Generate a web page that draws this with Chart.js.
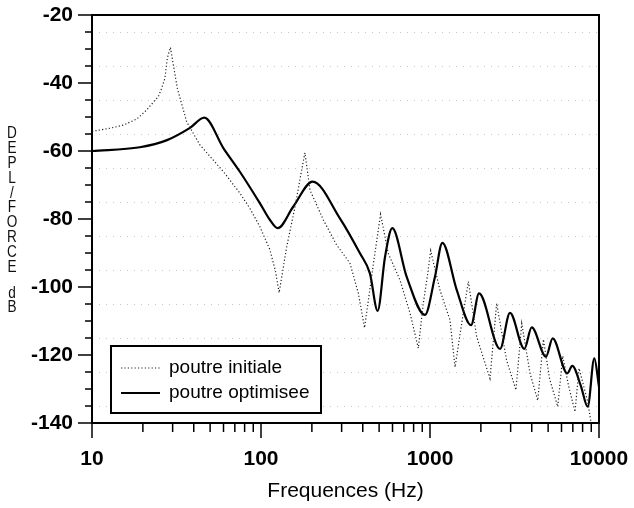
<!DOCTYPE html>
<html>
<head>
<meta charset="utf-8">
<script src="https://cdn.jsdelivr.net/npm/chart.js"></script>
<style>
  html, body { margin: 0; padding: 0; background: #fff; }
  canvas { display: block; }
</style>
</head>
<body>
<canvas id="chart" width="634" height="508"></canvas>
<script>
// poutre initiale (dotted)
const freqInit = [10, 10.6, 12.8, 15.3, 18.4, 21.1, 23.1, 24.7, 25.8, 27, 27.9, 29.1, 30.3, 32, 36.3, 43.5, 60, 75, 86, 98.6, 113, 122, 128,
  142, 159, 174, 182, 195, 234, 280, 336, 377, 410, 466, 510, 566, 664, 762, 853, 912, 964, 1009,
  1145, 1313, 1406, 1574, 1687, 1888, 2264, 2480, 2838, 3225, 3490, 3908, 4340, 4690, 5100, 5700,
  6100, 6600, 7210, 7620, 8600, 9300, 10000];
const dbInit = [-54.2, -54, -53.3, -52.4, -50.6, -47.9, -45.6, -44, -41.6, -38.6, -32.7, -29.5, -34.7, -41.6, -51.4, -58.2, -66.1, -72.4, -76.9, -82.3, -89.1, -95.5, -101.7,
  -88.1, -76.4, -65.6, -60.5, -71.5, -80.3, -87.6, -93, -101.9, -112, -92, -78.6, -90.1, -97.9, -107.7, -118, -104.8, -97, -89.3,
  -100.9, -109.7, -123.6, -107.7, -98.4, -114.6, -126.9, -104.8, -121.5, -130.3, -110.7, -125.4, -133.4, -115.4, -127, -135.2,
  -120.3, -129, -136.7, -123.9, -134, -145, -150];

// poutre optimisee (solid)
const freqOpt = [10, 19.2, 27.8, 38, 46.2, 60, 75, 98.6, 113, 125.6, 155, 202, 293, 385, 441, 490, 542, 598,
  728, 933, 1070, 1183, 1440, 1750, 1950, 2597, 2973, 3613, 3997, 4856, 5318, 6490, 6950, 7800, 8570, 9380, 10000];
const dbOpt = [-60, -58.9, -56.8, -53.2, -50.2, -59.2, -66.1, -75.4, -80.3, -82.7, -76.4, -69, -79.8, -90.1, -96, -107, -91.1, -82.7,
  -97, -108.2, -97, -87, -100.9, -111.2, -101.9, -118.2, -107.6, -118.2, -111.9, -120.5, -115.1, -125.4, -123.2, -129, -135.2, -121, -129.3];

const xLabels = [10, 100, 1000, 10000];
const seriesNames = ["poutre initiale", "poutre optimisee"];
const yTitle = "DEPL/FORCE";
const yUnit = "dB";

const toPoints = (xs, ys) => xs.map((x, i) => ({ x: x, y: ys[i] }));

// axes box, ticks, legend, stacked y title
const decorations = {
  id: "decorations",
  beforeDatasetsDraw(chart) {
    const { ctx, chartArea: a, scales: { y } } = chart;
    ctx.save();
    ctx.strokeStyle = "#c8c8c8";
    ctx.lineWidth = 1;
    ctx.setLineDash([1, 6]);
    for (let v = -135; v < -20; v += 10) {
      const py = Math.round(y.getPixelForValue(v)) + 0.5;
      ctx.beginPath();
      ctx.moveTo(a.left, py);
      ctx.lineTo(a.right, py);
      ctx.stroke();
    }
    ctx.restore();
  },
  afterDraw(chart) {
    const { ctx, chartArea: a, scales: { x, y } } = chart;
    ctx.save();
    ctx.strokeStyle = "#000";
    ctx.lineWidth = 2;
    ctx.strokeRect(a.left, a.top, a.right - a.left, a.bottom - a.top);

    // y ticks every 5 dB
    ctx.lineWidth = 1.5;
    for (let v = -140; v <= -20; v += 5) {
      const py = y.getPixelForValue(v);
      const len = v % 20 === 0 ? 14 : 7;
      ctx.beginPath();
      ctx.moveTo(a.left - len, py);
      ctx.lineTo(a.left, py);
      ctx.stroke();
    }
    // x ticks per decade
    for (let d = 10; d < 10000; d *= 10) {
      for (let k = 1; k <= 10; k++) {
        const f = d * k;
        if (f > 10000 || (k === 10 && f !== 10000)) continue;
        const px = x.getPixelForValue(f);
        const len = xLabels.includes(f) ? 15 : 9;
        ctx.beginPath();
        ctx.moveTo(px, a.bottom);
        ctx.lineTo(px, a.bottom + len);
        ctx.stroke();
      }
    }

    // legend
    const lx = 111, ly = 346, lw = 210, lh = 67;
    ctx.fillStyle = "#fff";
    ctx.fillRect(lx, ly, lw, lh);
    ctx.lineWidth = 2;
    ctx.strokeRect(lx, ly, lw, lh);
    chart.data.datasets.forEach((ds, i) => {
      const cy = ly + 22 + i * 25;
      ctx.strokeStyle = ds.borderColor;
      ctx.lineWidth = ds.borderWidth;
      ctx.setLineDash(ds.borderDash || []);
      ctx.beginPath();
      ctx.moveTo(lx + 10, cy);
      ctx.lineTo(lx + 49, cy);
      ctx.stroke();
      ctx.setLineDash([]);
      ctx.fillStyle = "#000";
      ctx.font = "19px 'Liberation Sans', Arial, sans-serif";
      ctx.textAlign = "left";
      ctx.textBaseline = "middle";
      ctx.fillText(ds.label, lx + 58, cy);
    });

    // stacked y title (narrow upright letters)
    ctx.fillStyle = "#111";
    ctx.font = "16px 'Liberation Sans', Arial, sans-serif";
    ctx.textAlign = "center";
    ctx.textBaseline = "middle";
    ctx.translate(12, 0);
    ctx.scale(0.85, 1);
    [...yTitle].forEach((ch, i) => ctx.fillText(ch, 0, 134 + i * 14.8));
    [...yUnit].forEach((ch, i) => ctx.fillText(ch, 0, 294 + i * 14));
    ctx.restore();
  }
};

new Chart(document.getElementById("chart"), {
  type: "line",
  data: {
    datasets: [
      {
        label: seriesNames[0],
        data: toPoints(freqInit, dbInit),
        borderColor: "#222",
        borderWidth: 1.2,
        borderDash: [1.2, 2.2],
        pointRadius: 0,
        tension: 0,
        clip: 0
      },
      {
        label: seriesNames[1],
        data: toPoints(freqOpt, dbOpt),
        borderColor: "#000",
        borderWidth: 2.2,
        pointRadius: 0,
        cubicInterpolationMode: "monotone",
        clip: 0
      }
    ]
  },
  options: {
    responsive: false,
    animation: false,
    devicePixelRatio: 1,
    layout: { padding: { top: 15, right: 35, left: 0, bottom: 0 } },
    plugins: {
      legend: { display: false },
      tooltip: { enabled: false }
    },
    scales: {
      x: {
        type: "logarithmic",
        min: 10,
        max: 10000,
        grid: { display: false, drawTicks: false },
        border: { display: false },
        afterFit: (s) => {
          s.height = 85;
          s.paddingLeft = 0;
          s.paddingRight = 0;
        },
        ticks: {
          autoSkip: false,
          maxRotation: 0,
          padding: 24,
          color: "#000",
          font: { family: "'Liberation Sans', Arial, sans-serif", size: 21, weight: "bold" },
          callback: (v) => xLabels.includes(v) ? String(v) : ""
        },
        title: {
          display: true,
          text: "Frequences (Hz)",
          color: "#000",
          padding: { top: 0, bottom: 4 },
          font: { family: "'Liberation Sans', Arial, sans-serif", size: 21 }
        }
      },
      y: {
        min: -140,
        max: -20,
        grid: { display: false, drawTicks: false },
        border: { display: false },
        afterFit: (s) => {
          s.width = 92;
          s.paddingTop = 0;
          s.paddingBottom = 0;
        },
        ticks: {
          stepSize: 20,
          padding: 19,
          color: "#000",
          font: { family: "'Liberation Sans', Arial, sans-serif", size: 21, weight: "bold" }
        }
      }
    }
  },
  plugins: [decorations]
});
</script>
</body>
</html>
